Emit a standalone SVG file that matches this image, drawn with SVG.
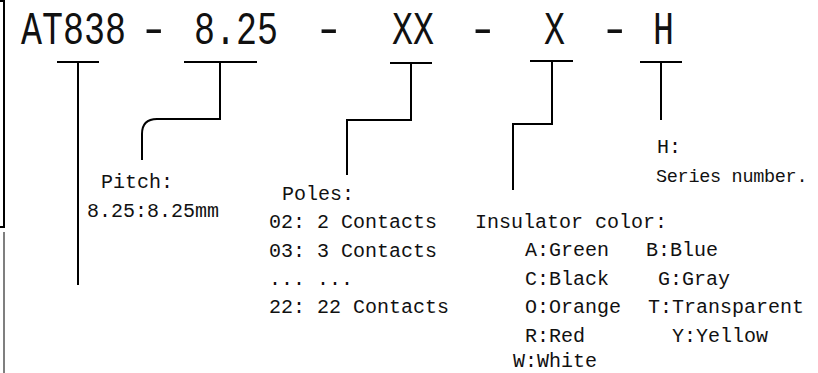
<svg xmlns="http://www.w3.org/2000/svg" width="818" height="373" viewBox="0 0 818 373">
<style>
.t{font-family:"Liberation Mono","DejaVu Sans Mono",monospace;font-size:20px;fill:#111}
.ttl{font-family:"Liberation Mono","DejaVu Sans Mono",monospace;font-size:35px;fill:#111}
.ln{fill:none;stroke:#000;stroke-width:2}
</style>
<rect width="818" height="373" fill="#fff"/>
<g id="frame">
<path class="ln" d="M0,1 H4 V227 H0"/>
<line x1="4" y1="232" x2="4" y2="373" stroke="#555" stroke-width="1.5"/>
</g>
<g id="title">
<text class="ttl" transform="translate(0,44) scale(1,1.33)"><tspan x="21">AT838</tspan><tspan x="194">8.25</tspan><tspan x="392">XX</tspan><tspan x="544">X</tspan><tspan x="653">H</tspan></text>
<text class="ttl" transform="translate(138,44) scale(1.5,1.33)">-</text>
<text class="ttl" transform="translate(313,44) scale(1.5,1.33)">-</text>
<text class="ttl" transform="translate(467,44) scale(1.5,1.33)">-</text>
<text class="ttl" transform="translate(599,44) scale(1.5,1.33)">-</text>
</g>
<g id="connectors">
<path class="ln" d="M57,62 H99 M78,62 V285"/>
<path class="ln" d="M184,62 H257 M220,62 V119 H157 Q142,119 142,134 V160"/>
<path class="ln" d="M390,63 H432 M411,63 V120 H347 V175"/>
<path class="ln" d="M530,61 H573 M552,61 V124 H513 V190"/>
<path class="ln" d="M640,62 H682 M661,62 V120"/>
</g>
<g id="pitch">
<text class="t" x="101" y="188">Pitch:</text>
<text class="t" x="87" y="217">8.25:8.25mm</text>
</g>
<g id="poles">
<text class="t" x="282" y="200">Poles:</text>
<text class="t" x="269" y="228">02: 2 Contacts</text>
<text class="t" x="269" y="257">03: 3 Contacts</text>
<text class="t" x="269" y="285">... ...</text>
<text class="t" x="269" y="313">22: 22 Contacts</text>
</g>
<g id="insulator">
<text class="t" x="475" y="228">Insulator color:</text>
<text class="t" y="256"><tspan x="525">A:Green</tspan><tspan x="646">B:Blue</tspan></text>
<text class="t" y="285"><tspan x="525">C:Black</tspan><tspan x="658">G:Gray</tspan></text>
<text class="t" y="313"><tspan x="525">O:Orange</tspan><tspan x="648">T:Transparent</tspan></text>
<text class="t" y="342"><tspan x="525">R:Red</tspan><tspan x="672">Y:Yellow</tspan></text>
<text class="t" x="513" y="367">W:White</text>
</g>
<g id="series">
<text class="t" x="657" y="153">H:</text>
<text class="t" x="656" y="182" style="font-size:18.5px;letter-spacing:-0.3px">Series number.</text>
</g>
</svg>
